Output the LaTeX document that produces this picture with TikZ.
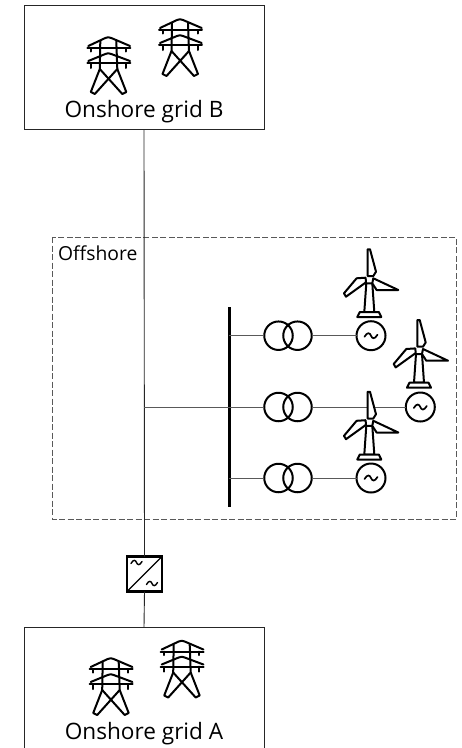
\documentclass[tikz,border=0pt]{standalone}
\usepackage{fontspec}
\setmainfont{Open Sans}
\tikzset{
  thinline/.style={line width=0.9pt,draw=black!85},
  feeder/.style={line width=1pt,draw=black!65},
  icon/.style={line width=2pt,draw=black,line join=round,line cap=round},
  gridbox/.style={rectangle,minimum width=240pt,inner sep=0pt,outer sep=0pt},
  xfcoil/.style={circle,draw=black,line width=2pt,minimum size=28.5pt,inner sep=0pt,outer sep=0pt},
  gencircle/.style={circle,draw=black,fill=white,line width=2pt,minimum size=29pt,inner sep=0pt,outer sep=0pt},
  tildeline/.style={line width=1.7pt,line cap=round,draw=black},
  gridlabel/.style={font=\fontsize{22.6pt}{26pt}\selectfont,inner sep=0pt,text=black},
  pylon/.pic={
    \draw[icon] (-20,9) -- (-3,1) .. controls (-1,0) and (1,0) .. (3,1) -- (21.7,9);
    \draw[icon] (-21,11) -- (22,11);
    \draw[icon] (-17.3,11) -- (-17.3,14.5) (17.7,11) -- (17.7,14.5);
    \draw[icon] (-20,24) -- (-3,17) .. controls (-1,16) and (1,16) .. (3,17) -- (21.7,24);
    \draw[icon] (-21,26) -- (22,26);
    \draw[icon] (-17.3,26) -- (-17.3,31) (17.7,26) -- (17.7,31);
    \draw[icon] (-8,4) -- (-8.5,32) -- (-17.5,55) -- (-13.5,57) -- (9,32) -- (8,4);
    \draw[icon] (9,32) -- (18,55) -- (14,57) -- (-8.5,32);
  },
  turbine/.pic={
    \draw[icon,fill=white] (-3,3.3) -- (-5,32) -- (5,32) -- (3,3.3) -- cycle;
    \draw[icon,fill=white] (-1.7,-4) -- (-1.7,-30.7) -- (0.7,-30.7) -- (6.7,-8.3) -- (4,-4) -- cycle;
    \draw[icon,fill=white] (-3.7,-2.3) -- (-12.7,-1.7) -- (-25.3,13.3) -- (-23.3,16.7) -- (-3.3,2.3) -- cycle;
    \draw[icon,fill=white] (4,-1.7) -- (29,10) -- (7.3,10) -- (3,3.3) -- cycle;
    \draw[icon,fill=white] (-9.5,32) -- (9.5,32) -- (12,37) -- (-12,37) -- cycle;
  },
  acwave/.pic={
    \draw[tildeline] (-6.5,1) .. controls (-3.5,-4) and (-1.2,-3) .. (0,0) .. controls (1.2,3) and (3.5,4) .. (6.5,-1);
  },
  smallwave/.pic={
    \draw[line width=1.4pt,line cap=round,draw=black] (-5.5,1) .. controls (-3,-3.5) and (-1,-2.5) .. (0,0) .. controls (1,2.5) and (3,3.5) .. (5.5,-1);
  }
}
\begin{document}
\begin{tikzpicture}[x=1pt,y=-1pt]
\useasboundingbox (0,0) rectangle (462,748);
\fill[white] (0,0) rectangle (462,748);

% onshore grids
\node[gridbox,draw=black!85,line width=0.9pt,minimum height=124pt] (gridB) at (144,67) {};
\node[gridbox,minimum height=121pt] (gridA) at (144,687.5) {};
\draw[thinline] (gridA.south west) -- (gridA.north west) -- (gridA.north east) -- (gridA.south east);
\node[gridlabel,anchor=base] (labelB) at (144,117.5) {Onshore grid B};
\node[gridlabel,anchor=base] (labelA) at (144,739) {Onshore grid A};
\pic at (108.3,37) {pylon};
\pic at (180,19) {pylon};
\pic at (110.7,658) {pylon};
\pic at (181.7,640.5) {pylon};

% offshore frame
\draw[dash pattern=on 6pt off 2.5pt,line width=0.9pt,draw=black!65] (52,237) rectangle (456,519);
\node[anchor=base west,inner sep=0pt,font=\fontsize{19.3pt}{22pt}\selectfont] (labelOff) at (58,260.5) {Offshore};

% converter
\node[rectangle,draw=black,line width=2.2pt,minimum size=35pt,inner sep=0pt,outer sep=0pt] (conv) at (144.5,574) {};
\draw[line width=1.3pt] (conv.south west) -- (conv.north east);
\pic at (136.5,562.5) {smallwave};
\pic at (152,583.5) {smallwave};

% trunk
\coordinate (tap) at (144,407);
\draw[thinline] (gridB.south) -- (conv.north);
\draw[thinline] (conv.south) -- (gridA.north);

% bus
\node[rectangle,fill=black,minimum width=3pt,minimum height=200pt,inner sep=0pt,outer sep=0pt] (bus) at (229,407) {};

% transformers
\foreach \n/\yy in {1/335.7,2/407,3/478}{
  \node[xfcoil] (xl\n) at (278.5,\yy) {};
  \node[xfcoil] (xr\n) at (297.5,\yy) {};
  \draw[feeder] (bus.center |- xl\n.west) -- (xl\n.west);
}
\draw[feeder] (tap) -- (xl2.west);

% generators
\node[gencircle] (g1) at (371,335.7) {};
\node[gencircle] (g2) at (420.3,407) {};
\node[gencircle] (g3) at (371,478) {};
\draw[feeder] (xr1.east) -- (g1.west);
\draw[feeder] (xr2.east) -- (g2.west);
\draw[feeder] (xr3.east) -- (g3.west);
\pic at (g1) {acwave};
\pic at (g2) {acwave};
\pic at (g3) {acwave};

% wind turbines
\pic at (369.3,280) {turbine};
\pic at (419,350.7) {turbine};
\pic at (369.3,422.5) {turbine};
\end{tikzpicture}
\end{document}
